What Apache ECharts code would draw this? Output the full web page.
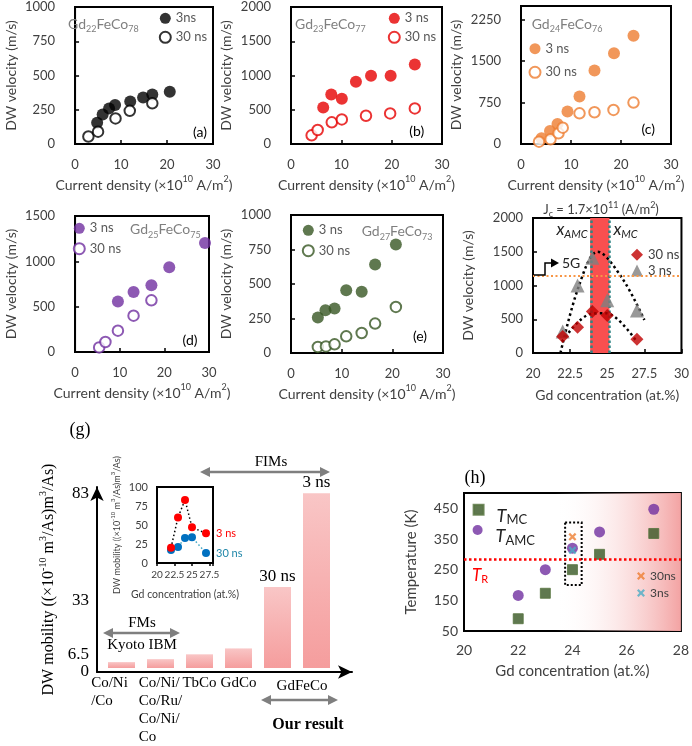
<!DOCTYPE html>
<html>
<head>
<meta charset="utf-8">
<script src="https://cdn.jsdelivr.net/npm/echarts@6.0.0/dist/echarts.min.js"></script>
<style>
html,body{margin:0;padding:0;background:#ffffff;}
#chart{width:692px;height:746px;}
</style>
</head>
<body>
<div id="chart"></div>
<script>
// ================= DATA =================
// (a) Gd22FeCo78 : [current density (x1e10 A/m2), DW velocity (m/s)]
const a3  = [[4.8,155],[6.0,215],[7.4,260],[8.7,285],[12.0,310],[14.8,340],[16.8,362],[20.6,382]];
const a30 = [[2.9,55],[5.0,90],[8.8,187],[11.9,242],[16.8,297]];
// (b) Gd23FeCo77
const b3  = [[6.4,534],[8.0,723],[10.1,660],[12.9,908],[15.9,995],[19.8,995],[24.6,1160]];
const b30 = [[4.1,126],[5.3,204],[8.1,316],[10.1,359],[14.9,413],[19.7,447],[24.6,519]];
// (c) Gd24FeCo76
const c3  = [[4.1,103],[5.8,236],[7.3,363],[9.3,587],[11.7,859],[14.7,1331],[18.6,1645],[22.5,1960]];
const c30 = [[3.6,42],[5.9,85],[7.5,194],[8.35,296],[11.7,556],[14.7,575],[18.5,617],[22.5,750]];
// (d) Gd25FeCo75
const d3  = [[9.6,558],[13.1,662],[17.1,735],[21.1,934],[29.1,1203]];
const d30 = [[5.4,51],[6.8,110],[9.6,235],[13.1,401],[17.1,570]];
// (e) Gd27FeCo73
const e3  = [[5.3,257],[6.8,310],[8.6,322],[10.9,455],[13.95,443],[16.6,642],[20.7,787]];
const e30 = [[5.3,44],[6.9,48],[8.6,63],[10.9,121],[13.95,145],[16.6,213],[20.7,334]];
// (f) velocity vs Gd concentration at Jc = 1.7e11 A/m2
const fConc = [22, 23, 24, 25, 27];
const fVel3 = [320, 1000, 1410, 780, 630];
const fVel30 = [245, 380, 615, 555, 205];
const fTrend3 = [[21.85,0],[23.1,1000],[24.35,1500],[26.0,1110],[27.5,490]];
const fTrend30 = [[21.95,170],[23.9,580],[24.9,590],[26.9,195]];
const fBand = [23.85, 25.15];          // compensation region x_AMC .. x_MC
const fBandEdges = [23.95, 25.12];
const f5G = 1150;
// (g) DW mobility comparison (x1e-10 m3/As)
const gMaterials = ['Co/Ni/Co','Co/Ni/Co/Ru/Co/Ni/Co','TbCo','GdCo','GdFeCo 30 ns','GdFeCo 3 ns'];
const gTickLabels = [['Co/Ni','/Co'],['Co/Ni/','Co/Ru/','Co/Ni/','Co'],['TbCo'],['GdCo'],[''],['']];
const gBarLabels = ['','','','','30 ns','3 ns'];
const gMobility = [2.8, 4.2, 6.5, 9.3, 38.5, 83];
const gYTicks = [0, 6.5, 33, 83];
const gYMax = 86;
// (g) inset: mobility vs Gd concentration
const insetConc = [22, 23, 24, 25, 27];
const insetMob3 = [20, 60, 83, 47, 39];
const insetMob30 = [17, 21, 33, 34, 13];
// (h) compensation temperatures
const hConc = [22, 23, 24, 25, 27];
const hTMC = [90, 173, 250, 300, 368];
const hTAMC = [166, 250, 320, 373, 447];
const hX30 = [[24, 357]];
const hX3 = [[24, 313]];
const hTR = 284;
const hBox = [[23.73, 404], [24.34, 200]];

// ================= STYLE / LAYOUT =================
const FS = 'Lato, "Noto Sans", sans-serif';
const SERIF = '"Liberation Serif", "DejaVu Serif", serif';
const TXT = '#404040';

function nameStyle(size, family, color) {
  const small = Math.round(size * 0.65);
  return {
    fontSize: size, fontFamily: family, color: color, lineHeight: size + 6,
    rich: {
      sup: {fontSize: small, fontFamily: family, color: color, verticalAlign: 'top', lineHeight: small + 1},
      sub: {fontSize: small, fontFamily: family, color: color, verticalAlign: 'bottom', lineHeight: small + 4}
    }
  };
}

const grids = [], xAxes = [], yAxes = [], series = [], legends = [], graphics = [];
const legendText = {};
const plain = v => String(v);

function boxAxisX(gi, o) {
  return Object.assign({
    gridIndex: gi, type: 'value',
    axisLine: {show: true, onZero: false, lineStyle: {color: '#000', width: 2}},
    axisTick: {show: true, inside: true, length: 4, lineStyle: {color: '#000', width: 1.5}},
    splitLine: {show: false},
    axisLabel: {margin: 14, fontSize: 13, fontFamily: FS, color: TXT, formatter: plain},
    nameLocation: 'middle', nameTextStyle: nameStyle(14, FS, TXT)
  }, o);
}
function boxAxisY(gi, o) {
  return Object.assign({
    gridIndex: gi, type: 'value',
    axisLine: {show: true, onZero: false, lineStyle: {color: '#000', width: 2}},
    axisTick: {show: true, inside: true, length: 4, lineStyle: {color: '#000', width: 1.5}},
    splitLine: {show: false},
    nameLocation: 'middle', nameRotate: 90, nameTextStyle: nameStyle(14, FS, TXT)
  }, o);
}

const velPanels = [
  {box:[62,7,151,137],   yMax:1000, yInt:250, color:'#000000', s3:a3, s30:a30, n3:'3ns',  leg:[164.3,17.3,17],   sub:['22','78'], tXY:[68,24],     letter:'(a)', lXY:[200,132]},
  {box:[291,7,151,137],  yMax:2000, yInt:500, color:'#e60000', s3:b3, s30:b30, n3:'3 ns', leg:[393.3,17.3,17],   sub:['23','77'], tXY:[295,24],    letter:'(b)', lXY:[416.7,131.7]},
  {box:[521,6,150,138],  yMax:2500, yInt:750, color:'#ed7d31', s3:c3, s30:c30, n3:'3 ns', leg:[534,47.7,21.6],   sub:['24','76'], tXY:[531.7,24],  letter:'(c)', lXY:[648.3,129.3]},
  {box:[63,216,146,136], yMax:1500, yInt:500, color:'#7030a0', s3:d3, s30:d30, n3:'3 ns', leg:[78.3,227.3,18.4], sub:['25','75'], tXY:[130,229.3], letter:'(d)', lXY:[190,340]},
  {box:[291,215,152,138],yMax:1000, yInt:250, color:'#375623', s3:e3, s30:e30, n3:'3 ns', leg:[307.3,229.3,18.4],sub:['27','73'], tXY:[361.7,231.7],letter:'(e)', lXY:[420,336.7]}
];

velPanels.forEach((p, k) => {
  const gi = grids.length;
  grids.push({left:p.box[0], top:p.box[1], width:p.box[2], height:p.box[3], show:true, borderColor:'#000', borderWidth:2});
  xAxes.push(boxAxisX(gi, {min:0, max:30, interval:10, name:'Current density (×10{sup|10} A/m{sup|2})', nameGap:31}));
  yAxes.push(boxAxisY(gi, {min:0, max:p.yMax, interval:p.yInt, name:'DW velocity (m/s)', nameGap:45,
    axisLabel:{margin:20, fontSize:13, fontFamily:FS, color:TXT, formatter: v => (v % p.yInt === 0 ? String(v) : '')}}));
  const id3 = 'v' + k + '_3', id30 = 'v' + k + '_30';
  legendText[id3] = p.n3; legendText[id30] = '30 ns';
  series.push({type:'scatter', name:id3, xAxisIndex:gi, yAxisIndex:gi, data:p.s3, symbol:'circle', symbolSize:12,
    itemStyle:{color:p.color}, z:3});
  series.push({type:'scatter', name:id30, xAxisIndex:gi, yAxisIndex:gi, data:p.s30, symbol:'circle', symbolSize:10.5,
    itemStyle:{color:'#ffffff', borderColor:p.color, borderWidth:2}, z:4});
  legends.push({data:[id3, id30], orient:'vertical', left:p.leg[0]-5.5, top:p.leg[1]-5.5, padding:0,
    itemWidth:11, itemHeight:11, itemGap:p.leg[2]-11, selectedMode:false,
    textStyle:{fontSize:13, fontFamily:FS, color:'#595959'}, formatter: n => legendText[n]});
  graphics.push({type:'text', x:p.tXY[0], y:p.tXY[1], z:50, style:{
    text:'Gd{s|' + p.sub[0] + '}FeCo{s|' + p.sub[1] + '}', fontSize:14, fontFamily:FS, fill:'#7f7f7f',
    align:'left', verticalAlign:'middle', lineHeight:20,
    rich:{s:{fontSize:9, fontFamily:FS, fill:'#7f7f7f', verticalAlign:'bottom', lineHeight:14}}}});
  graphics.push({type:'text', x:p.lXY[0], y:p.lXY[1], z:50, style:{text:p.letter, fontSize:14, fontFamily:FS, fill:'#000',
    align:'center', verticalAlign:'middle'}});
});

// ---------- (f) ----------
const gf = grids.length;
grids.push({left:533, top:218, width:150, height:135, show:true, borderColor:'#000', borderWidth:2});
xAxes.push(boxAxisX(gf, {min:20, max:30, interval:2.5, name:'Gd concentration (at.%)', nameGap:32}));
yAxes.push(boxAxisY(gf, {min:0, max:2000, interval:500, name:'DW velocity (m/s)', nameGap:55,
  axisLabel:{margin:10, fontSize:13, fontFamily:FS, color:TXT, formatter: plain}}));
series.push({type:'line', name:'fTrend3', xAxisIndex:gf, yAxisIndex:gf, data:fTrend3, smooth:0.35, showSymbol:false, silent:true,
  lineStyle:{color:'#000', width:2.5, type:[2.5,3]}, z:3,
  markArea:{silent:true, itemStyle:{color:'#f94f4f'}, data:[[{xAxis:fBand[0]},{xAxis:fBand[1]}]]},
  markLine:{silent:true, symbol:'none', label:{show:false}, data:[
    {xAxis:fBandEdges[0], lineStyle:{color:'#2f8585', type:[2.5,2.5], width:2.5}},
    {xAxis:fBandEdges[1], lineStyle:{color:'#2f8585', type:[2.5,2.5], width:2.5}},
    {yAxis:f5G, lineStyle:{color:'#f79646', type:[2,2.5], width:2}}
  ]}});
series.push({type:'line', name:'fTrend30', xAxisIndex:gf, yAxisIndex:gf, data:fTrend30, smooth:0.35, showSymbol:false, silent:true,
  lineStyle:{color:'#000', width:2.5, type:[2.5,3]}, z:3});
series.push({type:'scatter', name:'f3', xAxisIndex:gf, yAxisIndex:gf, data:fConc.map((x,i)=>[x,fVel3[i]]),
  symbol:'triangle', symbolSize:14, itemStyle:{color:'#7f7f7f'}, z:6});
series.push({type:'scatter', name:'f30', xAxisIndex:gf, yAxisIndex:gf, data:fConc.map((x,i)=>[x,fVel30[i]]),
  symbol:'diamond', symbolSize:13, itemStyle:{color:'#c00000'}, z:7});
legendText['f30'] = '30 ns'; legendText['f3'] = '3 ns';
legends.push({data:['f30','f3'], orient:'vertical', left:631, top:248.3, padding:0, itemWidth:12, itemHeight:12, itemGap:2.7,
  selectedMode:false, textStyle:{fontSize:13, fontFamily:FS, color:TXT}, formatter: n => legendText[n]});
graphics.push(
  {type:'text', x:601, y:210, z:50, style:{text:'J{s|c} = 1.7×10{p|11} (A/m{p|2})', fontSize:13, fontFamily:FS, fill:TXT,
    align:'center', verticalAlign:'middle', lineHeight:18,
    rich:{s:{fontSize:9, fontFamily:FS, fill:TXT, verticalAlign:'bottom', lineHeight:13},
          p:{fontSize:9, fontFamily:FS, fill:TXT, verticalAlign:'top', lineHeight:9}}}},
  {type:'text', x:572, y:230, z:50, style:{text:'{x|x}{s|AMC}', align:'center', verticalAlign:'middle',
    rich:{x:{fontSize:17, fontStyle:'italic', fontFamily:FS, fill:'#222', lineHeight:20, verticalAlign:'middle'},
          s:{fontSize:11, fontStyle:'italic', fontFamily:FS, fill:'#222', lineHeight:14, verticalAlign:'bottom'}}}},
  {type:'text', x:625.5, y:230, z:50, style:{text:'{x|x}{s|MC}', align:'center', verticalAlign:'middle',
    rich:{x:{fontSize:17, fontStyle:'italic', fontFamily:FS, fill:'#222', lineHeight:20, verticalAlign:'middle'},
          s:{fontSize:11, fontStyle:'italic', fontFamily:FS, fill:'#222', lineHeight:14, verticalAlign:'bottom'}}}},
  {type:'polyline', z:50, shape:{points:[[534,275],[545,275],[545,263],[552,263]]}, style:{stroke:'#000', lineWidth:1.5, fill:null}},
  {type:'polygon', z:50, shape:{points:[[551,258.5],[559,263],[551,267.5]]}, style:{fill:'#000'}},
  {type:'text', x:562, y:263, z:50, style:{text:'5G', fontSize:14, fontFamily:FS, fill:'#222', align:'left', verticalAlign:'middle'}}
);

// ---------- (g) bars ----------
const gLabelPadRight = [24, 0, 0, 0, 0, 0];
const gg = grids.length;
grids.push({left:102, top:487, width:234, height:185});
xAxes.push({gridIndex:gg, type:'category',
  data:gMaterials.map((m, i) => ({value:m, textStyle:{padding:[0, gLabelPadRight[i], 0, 0]}})),
  axisLine:{show:false}, axisTick:{show:false},
  axisLabel:{interval:0, margin:6, fontSize:15, fontFamily:SERIF, color:'#000', lineHeight:18,
    formatter:(v,i) => gTickLabels[i].map(l => l ? '{l|' + l + '}' : '').join('\n'),
    rich:{l:{align:'left', fontSize:15, fontFamily:SERIF, color:'#000', lineHeight:18}}}});
// hidden value axis of the bar grid; it carries the one tick label that sits too close to "0"
yAxes.push({gridIndex:gg, type:'value', min:0, max:gYMax, offset:5,
  axisLine:{show:false}, axisTick:{show:false}, splitLine:{show:false},
  axisLabel:{customValues:[gYTicks[1]], margin:8, fontSize:17, fontFamily:SERIF, color:'#000', formatter: plain}});
series.push({type:'bar', name:'mobility', xAxisIndex:gg, yAxisIndex:gg, data:gMobility, barWidth:27,
  itemStyle:{color:{type:'linear', x:0, y:0, x2:0, y2:1, colorStops:[{offset:0, color:'#f9c6c6'},{offset:1, color:'#f59d9d'}]}},
  label:{show:true, position:'top', distance:2, fontSize:17, fontFamily:SERIF, color:'#000', formatter:p => gBarLabels[p.dataIndex]}, z:2});

// (g) axis frame with arrows
const gfr = grids.length;
grids.push({left:97, top:487, width:255, height:185});
xAxes.push({gridIndex:gfr, type:'value', min:0, max:1,
  axisLine:{show:true, symbol:['none','arrow'], symbolSize:[10,14], lineStyle:{color:'#000', width:2}},
  axisTick:{show:false}, axisLabel:{show:false}, splitLine:{show:false}});
yAxes.push({gridIndex:gfr, type:'value', min:0, max:gYMax,
  axisLine:{show:true, symbol:['none','arrow'], symbolSize:[10,14], lineStyle:{color:'#000', width:2}},
  axisTick:{show:false}, splitLine:{show:false},
  axisLabel:{customValues:gYTicks.filter((v, i) => i !== 1), showMinLabel:true, showMaxLabel:true,
    margin:8, fontSize:17, fontFamily:SERIF, color:'#000', formatter: plain},
  name:'DW mobility ((×10{sup|-10} m{sup|3}/As)m{sup|3}/As)', nameLocation:'middle', nameRotate:90, nameGap:37,
  nameTextStyle:nameStyle(16, SERIF, '#000')});

// (g) inset
const gi2 = grids.length;
grids.push({left:157, top:487, width:56, height:76, show:true, borderColor:'#000', borderWidth:2});
xAxes.push({gridIndex:gi2, type:'value', min:20, max:28, interval:2.5,
  axisLine:{show:true, onZero:false, lineStyle:{color:'#000', width:2}},
  axisTick:{show:true, inside:false, length:3, lineStyle:{color:'#000', width:1.5}},
  splitLine:{show:false},
  axisLabel:{margin:7, fontSize:10, fontFamily:FS, color:TXT, showMinLabel:true, hideOverlap:false,
    formatter: v => (v % 2.5 === 0 ? String(v) : '')},
  name:'Gd concentration (at.%)', nameLocation:'middle', nameGap:23, nameTextStyle:nameStyle(10.5, FS, TXT)});
yAxes.push({gridIndex:gi2, type:'value', min:0, max:100, interval:25,
  axisLine:{show:true, onZero:false, lineStyle:{color:'#000', width:2}},
  axisTick:{show:false}, splitLine:{show:false},
  axisLabel:{margin:9, fontSize:11, fontFamily:FS, color:TXT},
  name:'DW mobility ((×10{sup|-10} m{sup|3}/As)m{sup|3}/As)', nameLocation:'middle', nameRotate:90, nameGap:32,
  nameTextStyle:nameStyle(9, FS, TXT)});
series.push({type:'line', name:'inset3', xAxisIndex:gi2, yAxisIndex:gi2, data:insetConc.map((x,i)=>[x,insetMob3[i]]),
  symbol:'circle', symbolSize:8, itemStyle:{color:'#ff0000'}, lineStyle:{color:'#000', width:1.5, type:[1.5,2.5]}, z:5,
  label:{show:true, position:'right', distance:6, fontSize:11, fontFamily:FS, color:'#ff0000',
    formatter:p => (p.dataIndex === insetConc.length - 1 ? '3 ns' : '')}});
series.push({type:'line', name:'inset30', xAxisIndex:gi2, yAxisIndex:gi2, data:insetConc.map((x,i)=>[x,insetMob30[i]]),
  symbol:'circle', symbolSize:8, itemStyle:{color:'#0070c0'}, lineStyle:{color:'#4bacc6', width:1.5, type:[1.5,2.5]}, z:4,
  label:{show:true, position:'right', distance:6, fontSize:11, fontFamily:FS, color:'#1f86a8',
    formatter:p => (p.dataIndex === insetConc.length - 1 ? '30 ns' : '')}});

function dArrow(x1, x2, y, color) {
  return [
    {type:'line', z:50, shape:{x1:x1+6, y1:y, x2:x2-6, y2:y}, style:{stroke:color, lineWidth:2.5}},
    {type:'polygon', z:50, shape:{points:[[x1,y],[x1+10,y-5],[x1+10,y+5]]}, style:{fill:color}},
    {type:'polygon', z:50, shape:{points:[[x2,y],[x2-10,y-5],[x2-10,y+5]]}, style:{fill:color}}
  ];
}
function stxt(x, y, text, size, bold) {
  return {type:'text', x:x, y:y, z:50, style:{text:text, fontSize:size, fontFamily:SERIF, fontWeight:bold ? 'bold' : 'normal',
    fill:'#000', align:'center', verticalAlign:'middle'}};
}
graphics.push(stxt(80, 430, '(g)', 18, false));
graphics.push(...dArrow(103, 180, 633, '#7f7f7f'));
graphics.push(stxt(142, 623, 'FMs', 15, false));
graphics.push(stxt(142, 645, 'Kyoto IBM', 15, false));
graphics.push(...dArrow(200, 330, 472, '#7f7f7f'));
graphics.push(stxt(271, 462, 'FIMs', 15, false));
graphics.push(stxt(302, 686, 'GdFeCo', 15, false));
graphics.push(...dArrow(261, 338, 700, '#7f7f7f'));
graphics.push(stxt(308, 725, 'Our result', 16, true));

// ---------- (h) ----------
const gh = grids.length;
grids.push({left:464, top:493, width:218, height:138, show:true, borderColor:'#000', borderWidth:2});
xAxes.push({gridIndex:gh, type:'value', min:20, max:28, interval:2,
  axisLine:{show:true, onZero:false, lineStyle:{color:'#000', width:2}}, axisTick:{show:false}, splitLine:{show:false},
  axisLabel:{margin:12, fontSize:14, fontFamily:FS, color:TXT, formatter: plain},
  name:'Gd concentration (at.%)', nameLocation:'middle', nameGap:30, nameTextStyle:nameStyle(15, FS, TXT)});
yAxes.push({gridIndex:gh, type:'value', min:50, max:500, interval:100,
  axisLine:{show:true, onZero:false, lineStyle:{color:'#000', width:2}}, axisTick:{show:false}, splitLine:{show:false},
  axisLabel:{margin:6, fontSize:14, fontFamily:FS, color:TXT, formatter: v => ((v - 50) % 100 === 0 ? String(v) : '')},
  name:'Temperature (K)', nameLocation:'middle', nameRotate:90, nameGap:42, nameTextStyle:nameStyle(15, FS, TXT)});
series.push({type:'scatter', name:'hMC', xAxisIndex:gh, yAxisIndex:gh, data:hConc.map((x,i)=>[x,hTMC[i]]),
  symbol:'rect', symbolSize:10, itemStyle:{color:'#375623', borderColor:'#56743f', borderWidth:1}, z:4,
  markArea:{silent:true, data:[
    [{xAxis:20, itemStyle:{color:{type:'linear', x:0, y:0, x2:1, y2:0, colorStops:[
      {offset:0, color:'rgba(255,255,255,0)'},{offset:0.42, color:'rgba(255,255,255,0)'},{offset:1, color:'#f3a3a3'}]}}},{xAxis:28}],
    [{xAxis:hBox[0][0], yAxis:hBox[0][1], itemStyle:{color:'rgba(0,0,0,0)', borderColor:'#000', borderType:[2,2], borderWidth:2}},
     {xAxis:hBox[1][0], yAxis:hBox[1][1]}]
  ]},
  markLine:{silent:true, symbol:'none', data:[{yAxis:hTR}],
    lineStyle:{color:'#ff0000', type:[2.5,2.5], width:2.5},
    label:{show:true, position:'insideStartBottom', distance:[8,6], formatter:'{t|T}{s|R}',
      rich:{t:{fontSize:17, fontStyle:'italic', fontFamily:FS, color:'#ff0000', lineHeight:20},
            s:{fontSize:11, fontFamily:FS, color:'#ff0000', verticalAlign:'bottom', lineHeight:14}}}}});
series.push({type:'scatter', name:'hAMC', xAxisIndex:gh, yAxisIndex:gh, data:hConc.map((x,i)=>[x,hTAMC[i]]),
  symbol:'circle', symbolSize:11, itemStyle:{color:'#7030a0'}, z:5});
const xPath = 'path://M2,0 L5,3 L8,0 L10,2 L7,5 L10,8 L8,10 L5,7 L2,10 L0,8 L3,5 L0,2 Z';
series.push({type:'scatter', name:'h30', xAxisIndex:gh, yAxisIndex:gh, data:hX30, symbol:xPath, symbolSize:8,
  itemStyle:{color:'#ed7d31'}, z:6});
series.push({type:'scatter', name:'h3', xAxisIndex:gh, yAxisIndex:gh, data:hX3, symbol:xPath, symbolSize:8,
  itemStyle:{color:'#4bacc6'}, z:6});
legendText['hMC'] = '{t|T}{s|MC}'; legendText['hAMC'] = '{t|T}{s|AMC}';
legendText['h30'] = '30ns'; legendText['h3'] = '3ns';
const hLegTextStyle = {color:'#222', padding:[12,0,0,8],
  rich:{t:{fontSize:18, fontStyle:'italic', fontFamily:FS, color:'#222', lineHeight:22},
        s:{fontSize:13, fontFamily:FS, color:'#222', verticalAlign:'bottom', lineHeight:16}}};
legends.push({data:['hMC'], orient:'vertical', left:472.6, top:503.7, padding:0, itemWidth:10, itemHeight:10,
  selectedMode:false, formatter:n => legendText[n], textStyle:hLegTextStyle});
legends.push({data:['hAMC'], orient:'vertical', left:472.6, top:525, padding:0, itemWidth:10, itemHeight:10,
  selectedMode:false, formatter:n => legendText[n], textStyle:hLegTextStyle});
legends.push({data:['h30','h3'], orient:'vertical', left:637, top:570, padding:0, itemWidth:8, itemHeight:8, itemGap:5,
  selectedMode:false, formatter:n => legendText[n], textStyle:{fontSize:12, fontFamily:FS, color:TXT}});
graphics.push(stxt(475, 478, '(h)', 18, false));

// ================= CHART =================
const chart = echarts.init(document.getElementById('chart'), null, {renderer:'canvas', width:692, height:746});
chart.setOption({
  animation:false,
  backgroundColor:'#ffffff',
  grid:grids, xAxis:xAxes, yAxis:yAxes, series:series, legend:legends, graphic:graphics
});
</script>
</body>
</html>
